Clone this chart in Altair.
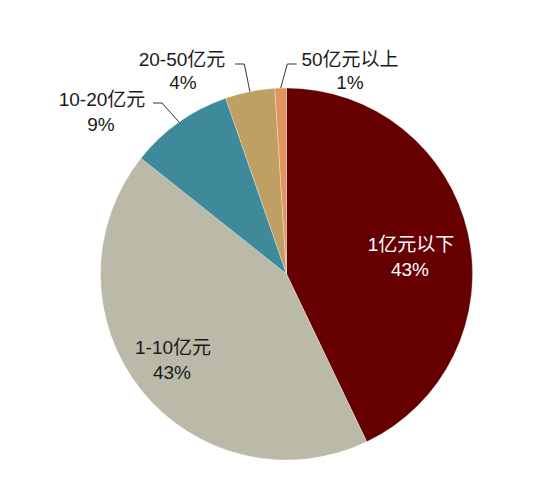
import math
import altair as alt
import pandas as pd

# ---- data ----
categories = ["1亿元以下", "1-10亿元", "10-20亿元", "20-50亿元", "50亿元以上"]
values = [42.9, 42.8, 9.0, 4.3, 1.0]
pct_labels = ["43%", "43%", "9%", "4%", "1%"]
colors = ["#660000", "#BBB9A8", "#3E8A9B", "#C0A062", "#E0955E"]

# ---- layout ----
W, H = 534, 488
CX, CY, R = 278.5, 266.0, 186.0
FONT = "Liberation Sans, Arial, Noto Sans CJK SC"

df = pd.DataFrame({"category": categories, "value": values, "idx": range(len(values))})

pie = alt.Chart(df).mark_arc(outerRadius=R, stroke="white", strokeWidth=0.3).encode(
    theta=alt.Theta("value:Q", stack=True),
    color=alt.Color("category:N", scale=alt.Scale(domain=categories, range=colors), legend=None),
    order=alt.Order("idx:Q"),
    x=alt.value(CX),
    y=alt.value(CY),
)

# leader line end points computed from slice mid-angles
total = sum(values)
cum = 0.0
mid_pts = []
for v in values:
    a = (cum + v / 2) / total * 2 * math.pi
    mid_pts.append((CX + R * math.sin(a), CY - R * math.cos(a)))
    cum += v

# label layout: (line1 x, line1 y, line2 x, line2 y, color)
label_pos = [
    (403, 237, 402, 262, "white"),
    (165, 340, 164, 365, "#1a1a1a"),
    (94, 92, 93, 117, "#1a1a1a"),
    (174, 52, 175, 75, "#1a1a1a"),
    (342, 52, 342, 75, "#1a1a1a"),
]
rows = []
for i, (x1, y1, x2, y2, c) in enumerate(label_pos):
    rows.append({"tx": x1, "ty": y1, "t": categories[i], "c": c})
    rows.append({"tx": x2, "ty": y2, "t": pct_labels[i], "c": c})
tdf = pd.DataFrame(rows)

texts = alt.Chart(tdf).mark_text(font=FONT, fontSize=19, baseline="middle", align="center").encode(
    x=alt.X("tx:Q", scale=None),
    y=alt.Y("ty:Q", scale=None),
    text="t:N",
    color=alt.Color("c:N", scale=None),
)

# leader elbows for small slices (start x, elbow x, y)
elbows = {2: (145, 154, 95), 3: (227, 236.3, 56), 4: (288.7, 279.3, 56)}
segs = []
for i, (sx, ex, ey) in elbows.items():
    mx, my = mid_pts[i]
    segs.append({"x": sx, "y": ey, "x2": ex, "y2": ey})
    segs.append({"x": ex, "y": ey, "x2": mx, "y2": my})
sdf = pd.DataFrame(segs)

leaders = alt.Chart(sdf).mark_rule(color="#333333", strokeWidth=1).encode(
    x=alt.X("x:Q", scale=None),
    y=alt.Y("y:Q", scale=None),
    x2="x2:Q",
    y2="y2:Q",
)

chart = alt.layer(pie, leaders, texts).properties(
    width=W, height=H, padding=0
).configure_view(stroke=None)

chart.save("out.html", embed_options={"renderer": "svg", "actions": False})
